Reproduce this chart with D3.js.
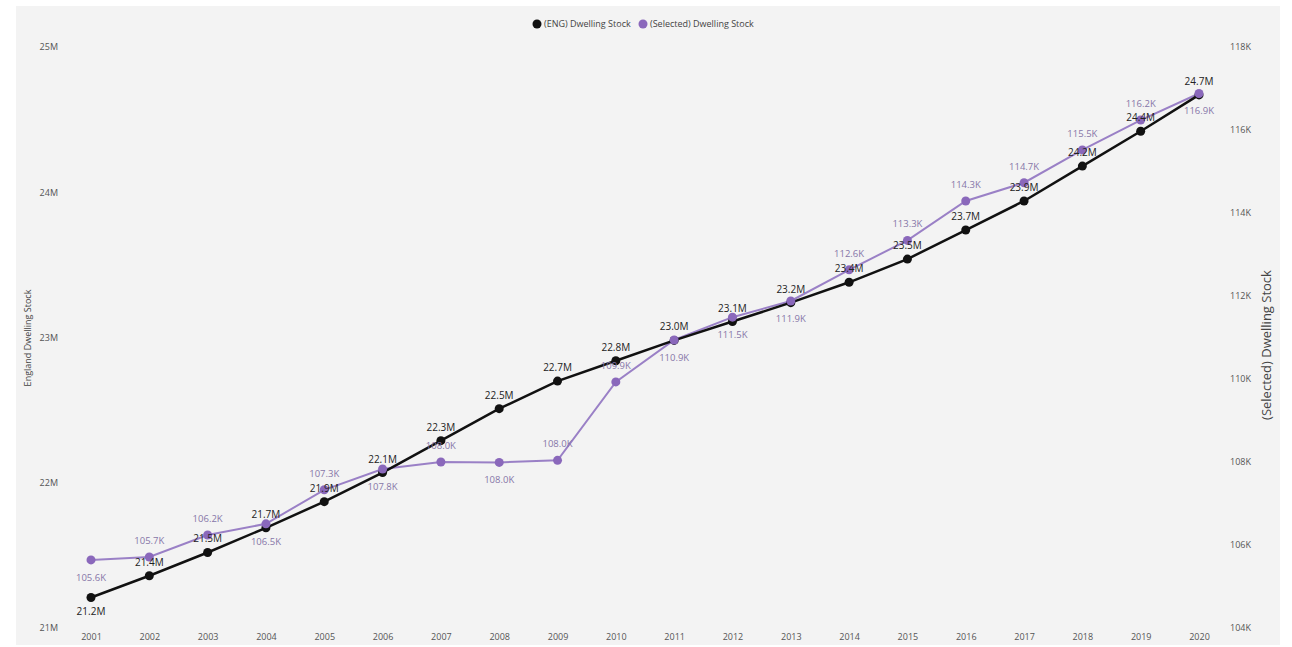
<!DOCTYPE html>
<html>
<head>
<meta charset="utf-8">
<script src="https://cdn.jsdelivr.net/npm/d3@7"></script>
<style>
  html, body { margin: 0; padding: 0; background: #ffffff; }
  svg { display: block; }
  text { font-family: "Open Sans", "Noto Sans", sans-serif; }
</style>
</head>
<body>
<svg id="chart" width="1292" height="647"></svg>
<script>
// ---- data ----
const years = ["2001","2002","2003","2004","2005","2006","2007","2008","2009","2010",
               "2011","2012","2013","2014","2015","2016","2017","2018","2019","2020"];
const engStock = [21.21, 21.36, 21.52, 21.69, 21.87, 22.07, 22.29, 22.51, 22.70, 22.84,
                  22.98, 23.11, 23.24, 23.38, 23.54, 23.74, 23.94, 24.18, 24.42, 24.67]; // millions
const selStock = [105.64, 105.71, 106.24, 106.51, 107.33, 107.83, 108.00, 107.99, 108.04, 109.93,
                  110.94, 111.49, 111.88, 112.63, 113.34, 114.29, 114.73, 115.52, 116.24, 116.88]; // thousands
const leftTicks = [21, 22, 23, 24, 25];
const rightTicks = [104, 106, 108, 110, 112, 114, 116, 118];
// label placement: 1 = above, -1 = below
const engLabelPos = [-1,1,1,1,1,1,1,1,1,1,1,1,1,1,1,1,1,1,1,1];
const selLabelPos = [-1,1,1,-1,1,-1,1,-1,1,1,-1,-1,-1,1,1,1,1,1,1,-1];
const seriesNames = ["(ENG) Dwelling Stock", "(Selected) Dwelling Stock"];

// ---- layout ----
const svg = d3.select("#chart");
svg.append("rect").attr("x", 16).attr("y", 6).attr("width", 1264).attr("height", 639).attr("fill", "#f3f3f3");

const x = d3.scalePoint().domain(years).range([91, 1199]);
const yL = d3.scaleLinear().domain([21, 25]).range([628, 47]);
const yR = d3.scaleLinear().domain([104, 118]).range([628, 47]);

const engColor = "#111111";
const selColor = "#8a68bb";
const selLine = "#9a80c6";
const selLabel = "#8676a8";

// x axis
const xAxis = svg.append("g").attr("transform", "translate(0,634)")
  .call(d3.axisBottom(x).tickSize(0).tickPadding(0));
xAxis.select(".domain").remove();
xAxis.selectAll("text").attr("font-size", 9).attr("fill", "#555").attr("dy", "0.71em")
  .style("font-family", "'Open Sans', sans-serif");

// left axis
const lAxis = svg.append("g").attr("transform", "translate(58,0)")
  .call(d3.axisLeft(yL).tickValues(leftTicks).tickFormat(d => d + "M").tickSize(0).tickPadding(0));
lAxis.select(".domain").remove();
lAxis.selectAll("text").attr("font-size", 9).attr("fill", "#555").attr("dy", "0.32em")
  .style("font-family", "'Open Sans', sans-serif");

// right axis
const rAxis = svg.append("g").attr("transform", "translate(1230,0)")
  .call(d3.axisRight(yR).tickValues(rightTicks).tickFormat(d => d + "K").tickSize(0).tickPadding(0));
rAxis.select(".domain").remove();
rAxis.selectAll("text").attr("font-size", 9).attr("fill", "#555").attr("dy", "0.32em")
  .style("font-family", "'Open Sans', sans-serif");

// axis titles
svg.append("text").attr("transform", "translate(31,338) rotate(-90)")
  .attr("text-anchor", "middle").attr("font-size", 9).attr("fill", "#444")
  .text("England Dwelling Stock");
svg.append("text").attr("transform", "translate(1271,345) rotate(-90)")
  .attr("text-anchor", "middle").attr("font-size", 13).attr("fill", "#444")
  .text("(Selected) Dwelling Stock");

// legend
const legend = svg.append("g").attr("transform", "translate(0,24)");
legend.append("circle").attr("cx", 537).attr("cy", 0).attr("r", 4.5).attr("fill", engColor);
legend.append("text").attr("x", 544).attr("y", 0).attr("dy", "0.35em").attr("font-size", 9).attr("fill", "#444").text(seriesNames[0]);
legend.append("circle").attr("cx", 643).attr("cy", 0).attr("r", 4.5).attr("fill", selColor);
legend.append("text").attr("x", 650).attr("y", 0).attr("dy", "0.35em").attr("font-size", 9).attr("fill", "#444").text(seriesNames[1]);

// lines
const engPts = years.map((yr, i) => ({yr, v: engStock[i], pos: engLabelPos[i]}));
const selPts = years.map((yr, i) => ({yr, v: selStock[i], pos: selLabelPos[i]}));

svg.append("path").datum(selPts)
  .attr("fill", "none").attr("stroke", selLine).attr("stroke-width", 2)
  .attr("d", d3.line().x(d => x(d.yr)).y(d => yR(d.v)));
svg.append("path").datum(engPts)
  .attr("fill", "none").attr("stroke", engColor).attr("stroke-width", 2.5)
  .attr("d", d3.line().x(d => x(d.yr)).y(d => yL(d.v)));

svg.selectAll("circle.eng").data(engPts).enter().append("circle").attr("class", "eng")
  .attr("cx", d => x(d.yr)).attr("cy", d => yL(d.v)).attr("r", 4.5).attr("fill", engColor);
svg.selectAll("circle.sel").data(selPts).enter().append("circle").attr("class", "sel")
  .attr("cx", d => x(d.yr)).attr("cy", d => yR(d.v)).attr("r", 4.5).attr("fill", selColor);

// data labels
svg.selectAll("text.engl").data(engPts).enter().append("text").attr("class", "engl")
  .attr("x", d => x(d.yr)).attr("y", d => yL(d.v) + (d.pos > 0 ? -10 : 18))
  .attr("text-anchor", "middle").attr("font-size", 10).attr("fill", "#222")
  .text(d => d.v.toFixed(1) + "M");
svg.selectAll("text.sell").data(selPts).enter().append("text").attr("class", "sell")
  .attr("x", d => x(d.yr)).attr("y", d => yR(d.v) + (d.pos > 0 ? -13 : 21))
  .attr("text-anchor", "middle").attr("font-size", 9.5).attr("fill", selLabel)
  .text(d => d.v.toFixed(1) + "K");
</script>
</body>
</html>
